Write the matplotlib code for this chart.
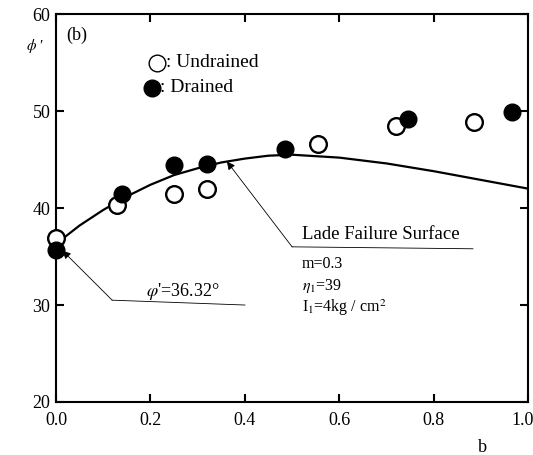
import matplotlib
matplotlib.use("Agg")
import matplotlib.pyplot as plt
import matplotlib.transforms as mtransforms

plt.rcParams['font.family'] = ['Liberation Serif', 'DejaVu Serif']
plt.rcParams['mathtext.fontset'] = 'stix'

# Data
b_undrained = [0.0, 0.13, 0.25, 0.32, 0.555, 0.72, 0.885]
phi_undrained = [36.9, 40.3, 41.4, 42.0, 46.6, 48.5, 48.9]
b_drained = [0.0, 0.14, 0.25, 0.32, 0.485, 0.745, 0.965]
phi_drained = [35.7, 41.5, 44.4, 44.5, 46.1, 49.2, 49.9]

b_lade = [0.0, 0.05, 0.1, 0.15, 0.2, 0.25, 0.3, 0.35, 0.4, 0.45, 0.5, 0.6, 0.7, 0.8, 0.9, 1.0]
phi_lade = [36.3, 38.2, 39.8, 41.2, 42.4, 43.4, 44.1, 44.7, 45.1, 45.4, 45.5, 45.2, 44.6, 43.8, 42.9, 42.0]

xticks = [0.0, 0.2, 0.4, 0.6, 0.8, 1.0]
xticklabels = ["0.0", "0.2", "0.4", "0.6", "0.8", "1.0"]
yticks = [20, 30, 40, 50, 60]
yticklabels = ["20", "30", "40", "50", "60"]

fig = plt.figure(figsize=(5.33, 4.55), dpi=100)
ax = fig.add_axes([0.105, 0.1165, 0.886, 0.8525])
ax.set_xlim(0.0, 1.0)
ax.set_ylim(20, 60)

ax.plot(b_lade, phi_lade, color='black', lw=1.6, zorder=2)
ax.plot(b_undrained, phi_undrained, 'o', ms=12, mfc='white', mec='black', mew=1.7,
        clip_on=False, zorder=3)
ax.plot(b_drained, phi_drained, 'o', ms=12, mfc='black', mec='black',
        clip_on=False, zorder=4)

for s in ax.spines.values():
    s.set_linewidth(1.5)

ax.set_xticks(xticks)
ax.set_xticklabels(xticklabels)
ax.set_yticks(yticks)
ax.set_yticklabels(yticklabels)
ax.tick_params(direction='in', length=6, width=1.5, labelsize=13,
               top=True, right=True, pad=7)
ax.tick_params(axis='y', pad=4)
# keep the last x label inside the picture
last = ax.get_xticklabels()[-1]
last.set_transform(last.get_transform() +
                   mtransforms.ScaledTranslation(-6 / 100, 0, fig.dpi_scale_trans))

# annotations: Lade failure surface
ax.plot([0.5, 0.883], [36.0, 35.8], color='black', lw=0.6)
ax.annotate("", xy=(0.362, 44.8), xytext=(0.5, 36.0),
            arrowprops=dict(arrowstyle='-|>', color='black', lw=0.6,
                            mutation_scale=12, shrinkA=0, shrinkB=0))
ax.text(0.52, 36.4, "Lade Failure Surface", fontsize=13.5, va='bottom', ha='left')
ax.text(0.52, 34.2, "m=0.3", fontsize=11.5, va='center', ha='left')
ax.text(0.52, 32.0, r"$\eta_1$=39", fontsize=11.5, va='center', ha='left')
ax.text(0.52, 29.7, r"I$_1$=4kg / cm$^2$", fontsize=11.5, va='center', ha='left')

# annotation: phi' = 36.32
ax.plot([0.119, 0.40], [30.5, 30.0], color='black', lw=0.6)
ax.annotate("", xy=(0.014, 35.6), xytext=(0.119, 30.5),
            arrowprops=dict(arrowstyle='-|>', color='black', lw=0.6,
                            mutation_scale=12, shrinkA=0, shrinkB=0))
ax.text(0.19, 31.4, r"$\varphi$'=36.32°", fontsize=13, va='center', ha='left')

# panel label and legend
ax.text(0.022, 57.8, "(b)", fontsize=13, va='center', ha='left')
ax.plot([0.215], [55.0], 'o', ms=12, mfc='white', mec='black', mew=1.0)
ax.text(0.232, 55.0, ": Undrained", fontsize=14, va='center', ha='left')
ax.plot([0.203], [52.4], 'o', ms=12, mfc='black', mec='black')
ax.text(0.22, 52.4, ": Drained", fontsize=14, va='center', ha='left')

fig.text(26/533, 1 - 46/455, r"$\phi$ ′", fontsize=11, va='center', ha='left')
fig.text(482/533, 1 - 447/455, "b", fontsize=13, va='center', ha='center')

fig.savefig("out.png", dpi=100)
